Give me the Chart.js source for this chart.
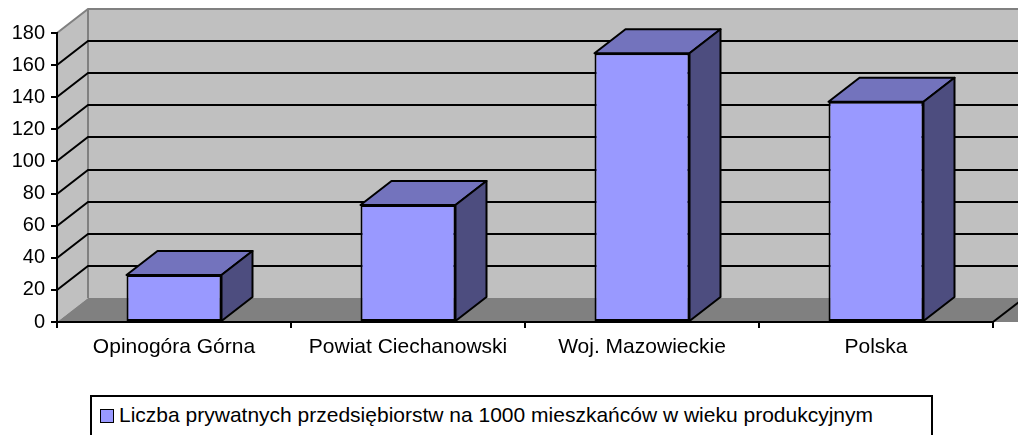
<!DOCTYPE html>
<html>
<head>
<meta charset="utf-8">
<script src="https://cdn.jsdelivr.net/npm/chart.js@4"></script>
<style>
  html, body { margin: 0; padding: 0; background: #fff; }
  body { width: 1018px; height: 435px; overflow: hidden; position: relative; font-family: "Liberation Sans", Arial, sans-serif; }
  #chart { position: absolute; left: 0; top: 0; }
  #legend { position: absolute; left: 90px; top: 395px; width: 843px; height: 60px; border: 2px solid #000; background: #fff; box-sizing: border-box; }
  #legend .sw { position: absolute; left: 8px; top: 12px; width: 12px; height: 12px; background: #9999ff; border: 1px solid #000; }
  #legend .txt { position: absolute; left: 27px; top: 6px; font-size: 21px; color: #000; white-space: nowrap; }
</style>
</head>
<body>
<canvas id="chart" width="1018" height="435"></canvas>
<div id="legend"><span class="sw"></span><span class="txt" id="legendText"></span></div>
<script>
  const categories = ["Opinogóra Górna", "Powiat Ciechanowski", "Woj. Mazowieckie", "Polska"];
  const seriesLabel = "Liczba prywatnych przedsiębiorstw na 1000 mieszkańców w wieku produkcyjnym";
  const seriesValues = [29.3, 72.9, 167.4, 137.2];
  const yTicks = [0, 20, 40, 60, 80, 100, 120, 140, 160, 180];

  // depth of the fake 3d box
  const DX = 31, DY = -24;

  document.getElementById("legendText").innerText = seriesLabel;

  const wallsPlugin = {
    id: "walls",
    beforeDraw(chart) {
      const ctx = chart.ctx;
      const a = chart.chartArea;
      const y = chart.scales.y;
      const far = chart.width + 40;
      ctx.save();
      // side wall
      ctx.fillStyle = "#c0c0c0";
      ctx.beginPath();
      ctx.moveTo(a.left, a.top);
      ctx.lineTo(a.left + DX, a.top + DY);
      ctx.lineTo(a.left + DX, a.bottom + DY);
      ctx.lineTo(a.left, a.bottom);
      ctx.closePath();
      ctx.fill();
      // back wall
      ctx.fillRect(a.left + DX, a.top + DY, far, a.bottom - a.top);
      ctx.strokeStyle = "#808080";
      ctx.lineWidth = 2;
      ctx.beginPath();
      ctx.moveTo(a.left, a.top);
      ctx.lineTo(a.left + DX, a.top + DY);
      ctx.lineTo(far, a.top + DY);
      ctx.moveTo(a.left + DX, a.top + DY);
      ctx.lineTo(a.left + DX, a.bottom + DY);
      ctx.stroke();
      // floor
      ctx.fillStyle = "#808080";
      ctx.beginPath();
      ctx.moveTo(a.left, a.bottom);
      ctx.lineTo(a.left + DX, a.bottom + DY);
      ctx.lineTo(far, a.bottom + DY);
      ctx.lineTo(far, a.bottom);
      ctx.closePath();
      ctx.fill();
      ctx.strokeStyle = "#000";
      ctx.beginPath();
      ctx.moveTo(a.right, a.bottom);
      ctx.lineTo(a.right + DX, a.bottom + DY);
      ctx.stroke();
      // grid lines on side and back wall
      ctx.strokeStyle = "#000";
      ctx.lineWidth = 2;
      yTicks.forEach(v => {
        if (v === 0 || v === yTicks[yTicks.length - 1]) return;
        const py = Math.round(y.getPixelForValue(v));
        ctx.beginPath();
        ctx.moveTo(a.left, py);
        ctx.lineTo(a.left + DX, py + DY);
        ctx.lineTo(far, py + DY);
        ctx.stroke();
      });
      ctx.restore();
    },
    afterDatasetsDraw(chart) {
      const ctx = chart.ctx;
      const meta = chart.getDatasetMeta(0);
      ctx.save();
      ctx.lineWidth = 2;
      ctx.strokeStyle = "#000";
      ctx.lineJoin = "round";
      meta.data.forEach(bar => {
        const p = bar.getProps(["x", "y", "base", "width"], true);
        const l = p.x - p.width / 2, r = p.x + p.width / 2;
        // top face
        ctx.fillStyle = "#7373bd";
        ctx.beginPath();
        ctx.moveTo(l, p.y);
        ctx.lineTo(l + DX, p.y + DY);
        ctx.lineTo(r + DX, p.y + DY);
        ctx.lineTo(r, p.y);
        ctx.closePath();
        ctx.fill();
        ctx.stroke();
        // side face
        ctx.fillStyle = "#4d4d7f";
        ctx.beginPath();
        ctx.moveTo(r, p.y);
        ctx.lineTo(r + DX, p.y + DY);
        ctx.lineTo(r + DX, p.base + DY);
        ctx.lineTo(r, p.base);
        ctx.closePath();
        ctx.fill();
        ctx.stroke();
      });
      ctx.restore();
    }
  };

  new Chart(document.getElementById("chart"), {
    type: "bar",
    data: {
      labels: categories,
      datasets: [{
        label: seriesLabel,
        data: seriesValues,
        backgroundColor: "#9999ff",
        borderColor: "#000",
        borderWidth: 2,
        borderSkipped: false,
        barPercentage: 0.406,
        categoryPercentage: 1
      }]
    },
    options: {
      responsive: false,
      animation: false,
      devicePixelRatio: 1,
      layout: { padding: { top: 33, right: 25, left: 0, bottom: 0 } },
      plugins: { legend: { display: false }, tooltip: { enabled: false } },
      scales: {
        x: {
          afterFit: s => { s.height = 113; },
          grid: { offset: true, drawOnChartArea: false, color: "#000", lineWidth: 2, tickLength: 6 },
          border: { color: "#000", width: 2 },
          ticks: { color: "#000", padding: 7, maxRotation: 0, font: { family: "Liberation Sans", size: 21 } }
        },
        y: {
          min: 0,
          max: 180,
          afterFit: s => { s.width = 57; },
          afterBuildTicks: s => { s.ticks = yTicks.map(v => ({ value: v })); },
          grid: { drawOnChartArea: false, color: "#000", lineWidth: 2, tickLength: 6 },
          border: { color: "#000", width: 2 },
          ticks: { color: "#000", padding: 6, font: { family: "Liberation Sans", size: 20 } }
        }
      }
    },
    plugins: [wallsPlugin]
  });
</script>
</body>
</html>
